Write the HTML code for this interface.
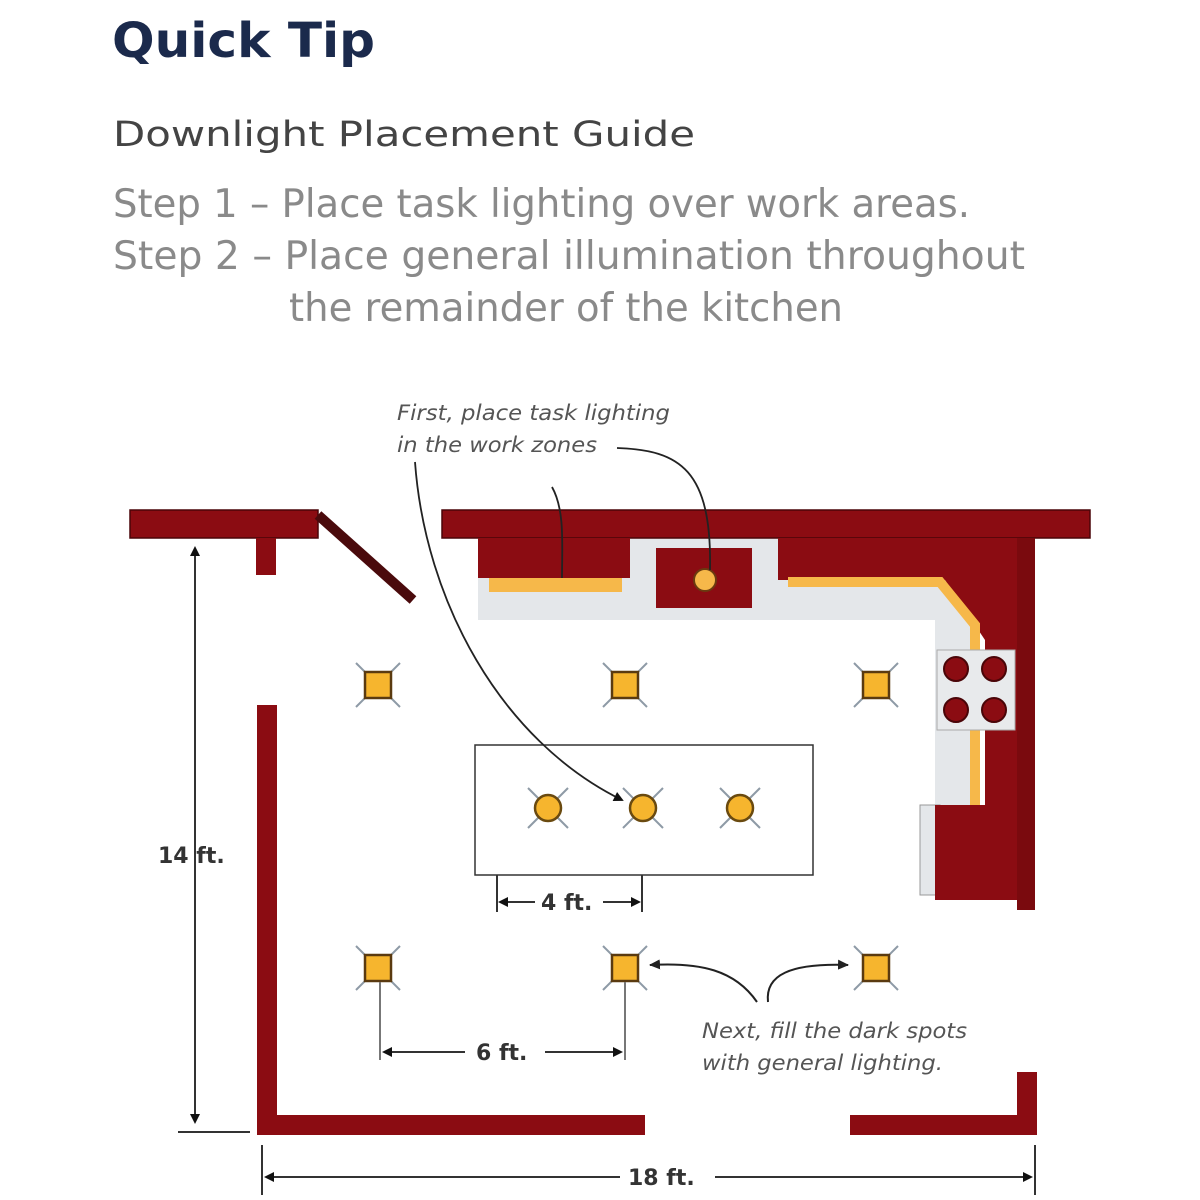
<!DOCTYPE html>
<html><head><meta charset="utf-8"><style>
html,body{margin:0;padding:0;background:#fff;width:1200px;height:1200px;overflow:hidden}
</style></head><body>
<svg width="1200" height="1200" viewBox="0 0 1200 1200" xmlns="http://www.w3.org/2000/svg">
<defs>
<marker id="ah" markerWidth="10" markerHeight="10" refX="8" refY="5" orient="auto-start-reverse" markerUnits="userSpaceOnUse">
<path d="M0,0 L10,5 L0,10 z" fill="#111"/></marker>
<marker id="ag" markerWidth="12" markerHeight="12" refX="10" refY="6" orient="auto" markerUnits="userSpaceOnUse">
<path d="M0,1 L11,6 L0,11 z" fill="#222"/></marker>
<g id="sq"><line x1="-22" y1="-22" x2="22" y2="22" stroke="#8e9aa6" stroke-width="2"/><line x1="22" y1="-22" x2="-22" y2="22" stroke="#8e9aa6" stroke-width="2"/><rect x="-13" y="-13" width="26" height="26" fill="#f6b52e" stroke="#5a3a10" stroke-width="2.5"/></g>
<g id="rd"><line x1="-20" y1="-20" x2="20" y2="20" stroke="#8e9aa6" stroke-width="2"/><line x1="20" y1="-20" x2="-20" y2="20" stroke="#8e9aa6" stroke-width="2"/><circle r="13" fill="#f6b52e" stroke="#6a4a10" stroke-width="2.5"/></g>
</defs>
<g font-family="'DejaVu Sans','Liberation Sans',sans-serif">
<text x="112" y="57" font-size="48" font-weight="bold" fill="#1b2a4c" textLength="263" lengthAdjust="spacingAndGlyphs">Quick Tip</text>
<text x="113" y="146" font-size="35" fill="#444" textLength="582" lengthAdjust="spacingAndGlyphs">Downlight Placement Guide</text>
<text x="113" y="217" font-size="39" fill="#8a8a8a" textLength="857" lengthAdjust="spacingAndGlyphs">Step 1 – Place task lighting over work areas.</text>
<text x="113" y="269" font-size="39" fill="#8a8a8a" textLength="912" lengthAdjust="spacingAndGlyphs">Step 2 – Place general illumination throughout</text>
<text x="289" y="321" font-size="39" fill="#8a8a8a" textLength="554" lengthAdjust="spacingAndGlyphs">the remainder of the kitchen</text>
<text x="397" y="420" font-size="21" font-style="italic" fill="#555" textLength="273" lengthAdjust="spacingAndGlyphs">First, place task lighting</text>
<text x="397" y="452" font-size="21" font-style="italic" fill="#555" textLength="200" lengthAdjust="spacingAndGlyphs">in the work zones</text>
<text x="702" y="1038" font-size="21" font-style="italic" fill="#555" textLength="265" lengthAdjust="spacingAndGlyphs">Next, fill the dark spots</text>
<text x="702" y="1070" font-size="21" font-style="italic" fill="#555" textLength="241" lengthAdjust="spacingAndGlyphs">with general lighting.</text>
</g>
<!-- counters -->
<rect x="478" y="538" width="497" height="82" fill="#e4e7ea"/>
<rect x="935" y="600" width="40" height="205" fill="#e4e7ea"/>
<rect x="920" y="805" width="20" height="90" fill="#e4e7ea" stroke="#999" stroke-width="1"/>
<!-- walls -->
<rect x="130" y="510" width="188" height="28" fill="#8b0c12" stroke="#4a0508" stroke-width="1.5"/>
<rect x="256" y="538" width="20" height="37" fill="#8b0c12"/>
<line x1="318" y1="515" x2="413" y2="600" stroke="#4a0a0c" stroke-width="10"/>
<rect x="442" y="510" width="648" height="28" fill="#8b0c12" stroke="#4a0508" stroke-width="1.5"/>
<rect x="478" y="538" width="152" height="40" fill="#8b0c12"/>
<rect x="489" y="578" width="133" height="14" fill="#f6b84a"/>
<rect x="656" y="548" width="96" height="60" fill="#8b0c12"/>
<circle cx="705" cy="580" r="11" fill="#f6b84a" stroke="#6a3a10" stroke-width="2"/>
<path d="M778,538 L1035,538 L1035,900 L935,900 L935,805 L985,805 L985,640 L945,580 L778,580 Z" fill="#8b0c12"/>
<path d="M788,582 L940,582 L975,625 L975,805" fill="none" stroke="#f6b84a" stroke-width="10"/>
<rect x="1017" y="538" width="18" height="372" fill="#7a0a0e"/>
<rect x="937" y="650" width="78" height="80" fill="#e8eaec" stroke="#aaa" stroke-width="1"/>
<circle cx="956" cy="669" r="12" fill="#8b0c12" stroke="#4a0508" stroke-width="2"/>
<circle cx="994" cy="669" r="12" fill="#8b0c12" stroke="#4a0508" stroke-width="2"/>
<circle cx="956" cy="710" r="12" fill="#8b0c12" stroke="#4a0508" stroke-width="2"/>
<circle cx="994" cy="710" r="12" fill="#8b0c12" stroke="#4a0508" stroke-width="2"/>
<rect x="257" y="705" width="20" height="430" fill="#8b0c12"/>
<rect x="257" y="1115" width="388" height="20" fill="#8b0c12"/>
<rect x="850" y="1115" width="187" height="20" fill="#8b0c12"/>
<rect x="1017" y="1072" width="20" height="63" fill="#8b0c12"/>
<!-- island -->
<rect x="475" y="745" width="338" height="130" fill="#fff" stroke="#333" stroke-width="1.5"/>
<!-- lights -->
<use href="#sq" x="378" y="685"/><use href="#sq" x="625" y="685"/><use href="#sq" x="876" y="685"/>
<use href="#sq" x="378" y="968"/><use href="#sq" x="625" y="968"/><use href="#sq" x="876" y="968"/>
<use href="#rd" x="548" y="808"/><use href="#rd" x="643" y="808"/><use href="#rd" x="740" y="808"/>
<!-- annotation arrows -->
<path d="M415,462 C425,600 500,740 622,800" fill="none" stroke="#222" stroke-width="1.8" marker-end="url(#ah)"/>
<path d="M552,487 C565,510 562,545 562,578" fill="none" stroke="#222" stroke-width="1.8"/>
<path d="M617,448 C680,450 712,470 710,570" fill="none" stroke="#222" stroke-width="1.8"/>
<path d="M757,1002 C735,970 700,962 650,965" fill="none" stroke="#222" stroke-width="2" marker-end="url(#ag)"/>
<path d="M768,1002 C765,975 790,963 848,965" fill="none" stroke="#222" stroke-width="2" marker-end="url(#ag)"/>
<!-- dimensions -->
<g stroke="#333" stroke-width="2" fill="none">
<line x1="195" y1="548" x2="195" y2="1122" marker-start="url(#ah)" marker-end="url(#ah)"/>
<line x1="178" y1="1132" x2="250" y2="1132"/>
<line x1="262" y1="1145" x2="262" y2="1195"/><line x1="1035" y1="1145" x2="1035" y2="1195"/>
<line x1="266" y1="1177" x2="620" y2="1177" marker-start="url(#ah)"/>
<line x1="715" y1="1177" x2="1031" y2="1177" marker-end="url(#ah)"/>
<line x1="497" y1="875" x2="497" y2="912"/><line x1="642" y1="875" x2="642" y2="912"/>
<line x1="500" y1="902" x2="535" y2="902" marker-start="url(#ah)"/>
<line x1="603" y1="902" x2="639" y2="902" marker-end="url(#ah)"/>
<line x1="380" y1="982" x2="380" y2="1060" stroke="#777"/><line x1="625" y1="982" x2="625" y2="1060" stroke="#777"/>
<line x1="384" y1="1052" x2="465" y2="1052" marker-start="url(#ah)"/>
<line x1="545" y1="1052" x2="621" y2="1052" marker-end="url(#ah)"/>
</g>
<g font-family="'DejaVu Sans','Liberation Sans',sans-serif" font-size="22" font-weight="bold" fill="#333">
<text x="158" y="863">14 ft.</text>
<text x="628" y="1185">18 ft.</text>
<text x="541" y="910">4 ft.</text>
<text x="476" y="1060">6 ft.</text>
</g>
</svg>
</body></html>
